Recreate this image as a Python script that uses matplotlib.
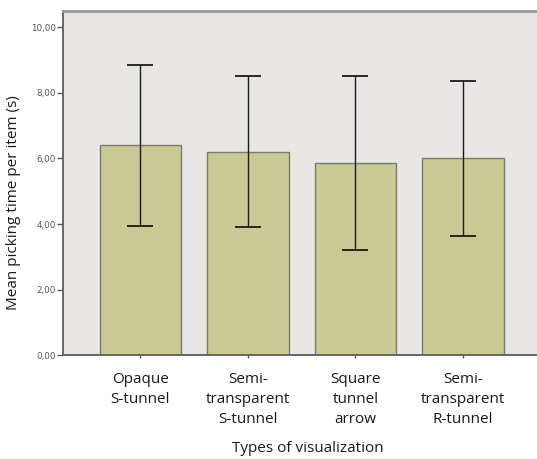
import matplotlib
matplotlib.use("Agg")
import matplotlib.pyplot as plt
import numpy as np

# mean picking time per item and its spread, per visualization type
categories = ["Opaque\nS-tunnel", "Semi-\ntransparent\nS-tunnel",
              "Square\ntunnel\narrow", "Semi-\ntransparent\nR-tunnel"]
means = [6.40, 6.20, 5.86, 6.00]
spread = [2.46, 2.30, 2.65, 2.37]
yticks = [0, 2, 4, 6, 8, 10]
ytick_labels = ["0,00", "2,00", "4,00", "6,00", "8,00", "10,00"]

plt.rcParams['font.family'] = ['Open Sans', 'DejaVu Sans']

fig = plt.figure(figsize=(5.37, 4.59), dpi=100)
ax = fig.add_axes([0.1173, 0.2255, 0.8827, 0.7505])
ax.set_facecolor("#e8e7e5")

x = np.arange(len(categories))
ax.bar(x, means, width=0.76, color="#c9c994", edgecolor="#7a7a6a", linewidth=1.0, zorder=2)
ax.errorbar(x, means, yerr=spread, fmt="none", ecolor="#1a1a1a",
            elinewidth=1.0, capsize=9.5, capthick=1.3, zorder=3)

ax.set_xlim(-0.72, 3.69)
ax.set_ylim(0, 10.49)
ax.set_yticks(yticks)
ax.set_yticklabels(ytick_labels, fontsize=6.3, color="#555555", family="DejaVu Sans")
ax.set_xticks(x)
ax.set_xticklabels(categories, fontsize=11, linespacing=1.45, color="#1a1a1a")
ax.tick_params(axis="y", length=4, width=1, color="#555555", pad=1)
ax.tick_params(axis="x", length=2, width=1, color="#555555", pad=10)

for side in ["left", "bottom"]:
    ax.spines[side].set_color("#666666")
    ax.spines[side].set_linewidth(1.4)
ax.spines["top"].set_color("#999999")
ax.spines["top"].set_linewidth(2.0)
ax.spines["right"].set_visible(False)

fig.text(14 / 537, 1 - 203 / 459, "Mean picking time per item (s)", rotation=90,
         ha="center", va="center", fontsize=11, color="#1a1a1a")
fig.text(308 / 537, 1 - 448 / 459, "Types of visualization",
         ha="center", va="center", fontsize=11, color="#1a1a1a")

fig.savefig("out.png", dpi=100)
